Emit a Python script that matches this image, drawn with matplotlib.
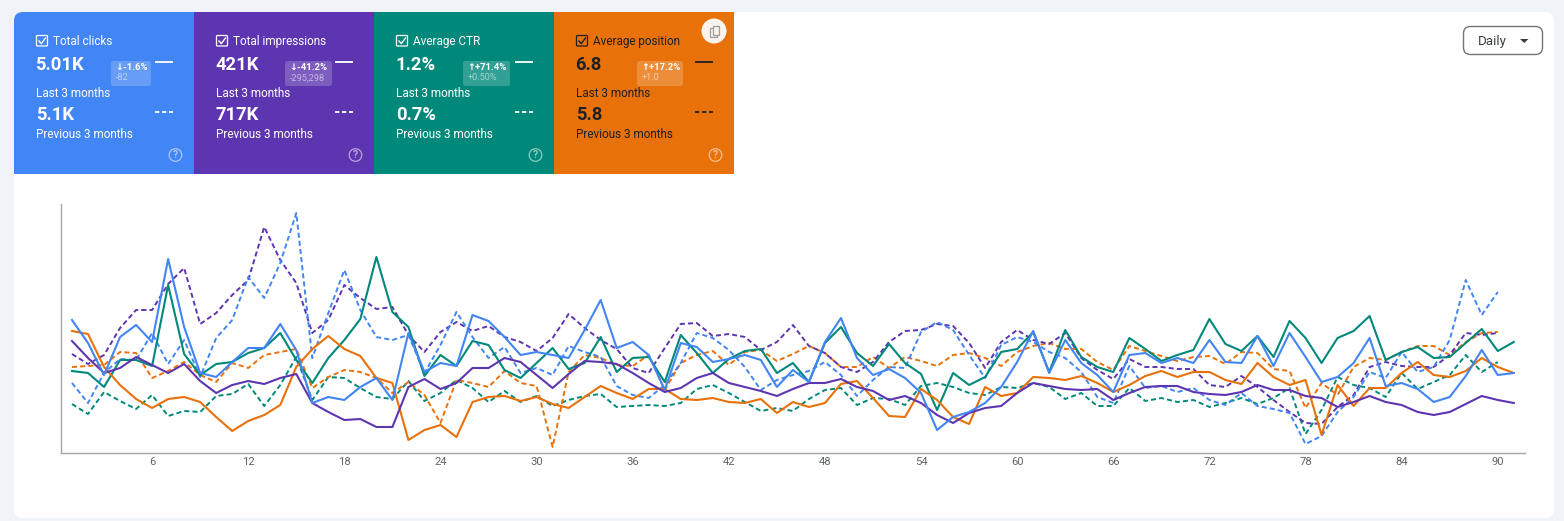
#!/usr/bin/env python3
"""Search performance panel: metric tiles above a 3-month daily comparison chart."""
import matplotlib
matplotlib.use('Agg')
import matplotlib.pyplot as plt
import numpy as np
from matplotlib.patches import Circle, FancyBboxPatch, PathPatch, Polygon, Rectangle
from matplotlib.path import Path

plt.rcParams['font.family'] = ['Roboto', 'DejaVu Sans']

# ---------------------------------------------------------------------------
# Data (relative heights, the chart has no y scale)
# ---------------------------------------------------------------------------
clicks_last = [133, 110, 78, 116, 128, 111, 194, 126, 80, 76, 91, 105, 105, 129, 103,
               50, 56, 53, 66, 75, 53, 120, 81, 90, 87, 138, 132, 116, 98, 101, 98, 95, 123,
               153,
               105, 111, 98, 63, 110, 106, 91, 94, 98, 93, 66, 83, 71, 111, 135, 95, 78, 84,
               75, 60, 23, 36, 41, 50, 66, 91, 122, 80, 113, 90, 78, 61, 98, 100, 90, 95,
               90, 113, 91, 90, 117, 87, 120, 96, 71, 76, 90, 115, 67, 70, 64, 51, 56, 77, 103, 78, 80]
impressions_last = [112, 95, 80, 85, 96, 88, 80, 89, 72, 60, 68, 72, 69, 75, 79,
                    50, 41, 33, 34, 26, 26, 66, 74, 64, 70, 85, 85, 95, 91, 78, 65, 79, 92,
                    91,
                    89, 80, 70, 61, 65, 75, 80, 70, 66, 62, 57, 64, 70, 70, 74, 66, 62, 53,
                    57, 50, 38, 30, 40, 45, 47, 60, 70, 67, 64, 63, 64, 53, 60, 66, 67, 67,
                    61, 59, 58, 61, 68, 63, 63, 57, 55, 46, 51, 57, 51, 48, 41, 38, 41, 49, 57, 53, 50]
ctr_last = [82, 80, 66, 93, 93, 87, 168, 99, 78, 89, 91, 100, 105, 120, 93,
            70, 95, 113, 134, 196, 141, 126, 77, 98, 87, 112, 108, 83, 75, 90, 105, 84, 90,
            116,
            81, 95, 96, 71, 118, 100, 80, 94, 102, 104, 80, 90, 71, 110, 126, 100, 87, 109,
            90, 79, 43, 80, 68, 76, 101, 104, 121, 81, 123, 96, 86, 81, 115, 104, 92, 98,
            103, 134, 109, 102, 117, 96, 132, 115, 90, 115, 122, 137, 93, 101, 106, 95, 96, 110, 124, 102, 111]
position_last = [122, 119, 86, 68, 54, 45, 54, 56, 51, 36, 22, 32, 38, 48, 86,
                 104, 117, 104, 97, 75, 70, 13, 23, 28, 16, 51, 56, 57, 52, 56, 49, 45, 56,
                 67,
                 60, 54, 64, 64, 54, 53, 55, 51, 50, 54, 40, 51, 46, 50, 69, 72, 55, 37,
                 36, 64, 53, 36, 29, 66, 57, 60, 76, 75, 73, 77, 70, 61, 68, 77, 82, 76,
                 81, 81, 73, 69, 90, 76, 68, 73, 18, 68, 47, 65, 65, 80, 91, 78, 76, 82, 95, 86, 80]

clicks_prev = [70, 50, 80, 94, 93, 120, 89, 113, 76, 115, 133, 176, 155, 190, 240,
               95, 140, 183, 143, 116, 113, 118, 80, 108, 141, 116, 95, 106, 80, 85, 78, 107, 101,
               96,
               67, 58, 55, 68, 90, 120, 115, 103, 86, 63, 73, 78, 82, 91, 78, 57, 73, 86,
               85, 121, 131, 123, 98, 75, 108, 116, 111, 101, 95, 81, 56, 50, 87, 65, 67, 61,
               65, 53, 48, 60, 47, 44, 40, 9, 17, 41, 56, 81, 75, 101, 81, 86, 113, 173, 138, 161]
impressions_prev = [99, 89, 98, 125, 143, 143, 169, 185, 129, 140, 158, 173, 226, 193, 170,
                    120, 133, 168, 155, 144, 146, 118, 101, 121, 131, 122, 127, 116, 111, 102, 115, 139, 125,
                    113,
                    104, 85, 80, 105, 129, 130, 117, 119, 116, 103, 111, 128, 107, 100, 86, 81, 91, 111,
                    122, 123, 129, 127, 110, 85, 111, 123, 113, 109, 120, 95, 83, 74, 94, 86, 86, 84,
                    84, 68, 66, 77, 66, 53, 41, 30, 29, 46, 58, 86, 91, 87, 86, 86, 98, 120, 118, 120]
ctr_prev = [49, 39, 61, 52, 44, 58, 37, 42, 41, 57, 59, 69, 47, 68, 96,
            53, 76, 75, 65, 56, 54, 72, 52, 60, 73, 65, 51, 62, 51, 57, 47, 53, 57,
            59,
            46, 47, 48, 47, 50, 64, 68, 60, 51, 42, 45, 42, 54, 63, 65, 48, 55, 54,
            48, 67, 70, 66, 60, 58, 66, 65, 70, 66, 54, 60, 47, 47, 65, 52, 55, 51,
            53, 46, 50, 55, 49, 55, 65, 19, 43, 76, 68, 65, 56, 80, 64, 71, 78, 98, 81, 91]
position_prev = [86, 87, 88, 101, 100, 75, 82, 91, 78, 71, 90, 85, 98, 101, 104,
                 65, 76, 83, 81, 75, 60, 71, 58, 30, 73, 70, 66, 82, 70, 67, 6, 81, 98,
                 95,
                 88, 87, 98, 63, 90, 98, 102, 88, 101, 103, 92, 99, 107, 100, 86, 86, 96, 85,
                 96, 92, 87, 98, 100, 95, 87, 101, 107, 110, 104, 104, 91, 83, 107, 102, 97, 92,
                 96, 97, 89, 101, 100, 84, 82, 45, 70, 58, 86, 95, 93, 101, 107, 107, 98, 111, 120, 121]

tick_days = list(range(6, 91, 6))

metric_names = ['Total clicks', 'Total impressions', 'Average CTR', 'Average position']
last_values = ['5.01K', '421K', '1.2%', '6.8']
prev_values = ['5.1K', '717K', '0.7%', '5.8']
badge_pct = ['↓-1.6%', '↓-41.2%', '↑+71.4%', '↑+17.2%']
badge_abs = ['-82', '-295,298', '+0.50%', '+1.0']

# ---------------------------------------------------------------------------
# Palette
# ---------------------------------------------------------------------------
PAGE_BG = '#F0F3F8'
BLUE = '#4285F4'
PURPLE = '#5E35B1'
GREEN = '#00897B'
ORANGE = '#E8710A'
DARK = '#202124'
TICK_GRAY = '#5F6368'
AXIS_GRAY = '#A6A6A6'

tile_colors = [BLUE, PURPLE, GREEN, ORANGE]
tile_ink = ['white', 'white', 'white', DARK]

# ---------------------------------------------------------------------------
# Canvas: a full-figure axes in pixel units for the page furniture
# ---------------------------------------------------------------------------
W, H = 1564, 521
fig = plt.figure(figsize=(W / 100, H / 100), dpi=100)
fig.patch.set_facecolor(PAGE_BG)
bg = fig.add_axes([0, 0, 1, 1])
bg.set_xlim(0, W)
bg.set_ylim(H, 0)
bg.axis('off')

bg.add_patch(FancyBboxPatch((14, 12), 1540, 506, boxstyle='round,pad=0,rounding_size=9',
                            facecolor='white', edgecolor='none', zorder=1))


def label(x, y, text, size=8.45, color='white', weight='normal', ha='left', alpha=1.0):
    bg.text(x, y, text, fontsize=size, color=color, fontweight=weight, ha=ha, va='center',
            alpha=alpha, zorder=6)


# ---------------------------------------------------------------------------
# Metric tiles
# ---------------------------------------------------------------------------
TILE_W, TILE_TOP, TILE_BOTTOM = 180, 12, 174
badge_left = [111, 285, 463, 637]
badge_width = [40, 47, 47, 46]

for i, name in enumerate(metric_names):
    x0 = 14 + i * TILE_W
    ink = tile_ink[i]
    if i == 0:
        # only the first tile follows the rounded card corner
        r = 9
        verts = [(x0 + r, TILE_TOP), (x0 + TILE_W, TILE_TOP), (x0 + TILE_W, TILE_BOTTOM),
                 (x0, TILE_BOTTOM), (x0, TILE_TOP + r), (x0, TILE_TOP), (x0 + r, TILE_TOP), (x0 + r, TILE_TOP)]
        codes = [Path.MOVETO, Path.LINETO, Path.LINETO, Path.LINETO, Path.LINETO,
                 Path.CURVE3, Path.CURVE3, Path.CLOSEPOLY]
        bg.add_patch(PathPatch(Path(verts, codes), facecolor=tile_colors[i], edgecolor='none', zorder=2))
    else:
        bg.add_patch(Rectangle((x0, TILE_TOP), TILE_W, TILE_BOTTOM - TILE_TOP,
                               facecolor=tile_colors[i], edgecolor='none', zorder=2))

    tx = x0 + 22
    # checkbox
    bg.add_patch(FancyBboxPatch((tx + 0.5, 35.5), 11, 10.5, boxstyle='round,pad=0,rounding_size=1',
                                facecolor='none', edgecolor=ink, linewidth=0.9, zorder=5))
    bg.plot([tx + 3, tx + 5.3, tx + 9.5], [41, 43.6, 38], color=ink, lw=1.0, zorder=5)

    label(tx + 17.2, 41.4, name, color=ink)
    label(tx - 0.6, 65.2, last_values[i], size=13.2, weight='bold', color=ink)
    label(tx - 0.3, 93.2, 'Last 3 months', color=ink)
    label(tx - 0.3, 115.2, prev_values[i], size=13.2, weight='bold', color=ink)
    label(tx - 0.3, 134.2, 'Previous 3 months', color=ink)

    # change badge
    bx = badge_left[i]
    bg.add_patch(FancyBboxPatch((bx, 61), badge_width[i], 25, boxstyle='round,pad=0,rounding_size=2.5',
                                facecolor='white', edgecolor='none', alpha=0.2, zorder=3))
    label(bx + 4, 68, badge_pct[i], size=6.8, weight='bold', color='white')
    label(bx + 4.5, 78, badge_abs[i], size=6.6, color='white', alpha=0.55)

    # line style keys
    bg.plot([x0 + 141, x0 + 159], [61.5, 61.5], color=ink, lw=1.3, zorder=5, solid_capstyle='butt')
    bg.plot([x0 + 141, x0 + 158.5], [112, 112], color=ink, lw=1.3, zorder=5, dashes=(2.4, 1.5))

    # help icon
    hx, hy = x0 + 161.5, 155
    bg.add_patch(Circle((hx, hy), 6.3, facecolor='none', edgecolor='white', linewidth=0.9, alpha=0.55, zorder=5))
    label(hx, hy, '?', size=7.5, color='white', weight='bold', ha='center', alpha=0.55)

# copy button on the last tile
bg.add_patch(Circle((714, 31), 12.5, facecolor='#FBF3EC', edgecolor='none', zorder=5))
bg.add_patch(Rectangle((710, 28), 6.5, 8.5, facecolor='#FBF3EC', edgecolor='#9E9E9E', linewidth=0.9, zorder=6))
bg.add_patch(Rectangle((712.5, 26), 6.5, 8.5, facecolor='#FBF3EC', edgecolor='#9E9E9E', linewidth=0.9, zorder=7))

# ---------------------------------------------------------------------------
# Daily dropdown
# ---------------------------------------------------------------------------
bg.add_patch(FancyBboxPatch((1463.5, 26.5), 79, 28, boxstyle='round,pad=0,rounding_size=7',
                            facecolor='white', edgecolor='#757575', linewidth=1.0, zorder=3))
label(1478, 41, 'Daily', size=9.6, color='#3C4043')
bg.add_patch(Polygon([(1520, 39), (1528.5, 39), (1524.2, 43)], closed=True, facecolor='#3C4043',
                     edgecolor='none', zorder=5))

# ---------------------------------------------------------------------------
# Chart
# ---------------------------------------------------------------------------
PX_LEFT, PX_RIGHT, PX_TOP, PX_BASE = 61.5, 1525, 204, 453
PX_PER_DAY = 16.02
PX_DAY1 = 72

ax = fig.add_axes([PX_LEFT / W, (H - PX_BASE) / H, (PX_RIGHT - PX_LEFT) / W, (PX_BASE - PX_TOP) / H])
ax.patch.set_alpha(0)
ax.set_xlim(1 + (PX_LEFT - PX_DAY1) / PX_PER_DAY, 1 + (PX_RIGHT - PX_DAY1) / PX_PER_DAY)
ax.set_ylim(0, PX_BASE - PX_TOP)

dash_style = (0, (2.6, 1.6))
for series, col in [(ctr_prev, GREEN), (position_prev, ORANGE), (impressions_prev, PURPLE), (clicks_prev, BLUE)]:
    ax.plot(np.arange(1, len(series) + 1), series, color=col, lw=1.4, linestyle=dash_style, zorder=2)
for series, col in [(ctr_last, GREEN), (position_last, ORANGE), (impressions_last, PURPLE), (clicks_last, BLUE)]:
    ax.plot(np.arange(1, len(series) + 1), series, color=col, lw=1.5, zorder=3)

for side in ('top', 'right'):
    ax.spines[side].set_visible(False)
for side in ('left', 'bottom'):
    ax.spines[side].set_color(AXIS_GRAY)
    ax.spines[side].set_linewidth(1.0)
ax.set_yticks([])
ax.set_xticks(tick_days)
ax.set_xticklabels([str(d) for d in tick_days], fontsize=8.1, color=TICK_GRAY)
ax.tick_params(axis='x', length=0, pad=2.6)

fig.savefig('out.png', dpi=100, facecolor=fig.get_facecolor())
